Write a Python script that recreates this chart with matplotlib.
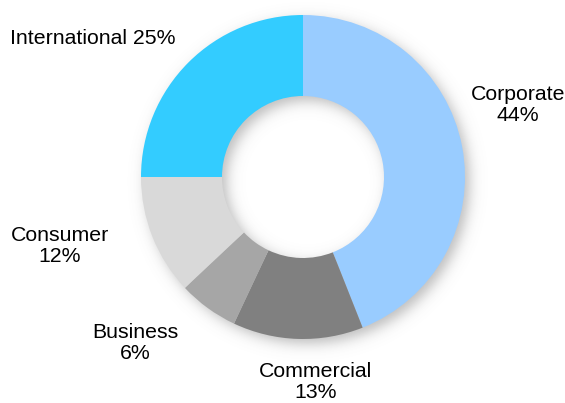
import numpy as np
import matplotlib
matplotlib.use("Agg")
import matplotlib.pyplot as plt

plt.rcParams['font.family'] = ['Liberation Sans', 'DejaVu Sans']

segments = ["Corporate", "Commercial", "Business", "Consumer", "International"]
shares = [44, 13, 6, 12, 25]
colors = ["#99CCFF", "#808080", "#A6A6A6", "#D9D9D9", "#33CCFF"]

W, H = 565, 403
cx, cy, R = 303, 177, 162  # centre and outer radius in pixels (from top-left)

fig = plt.figure(figsize=(W / 100, H / 100), dpi=100)
ax = fig.add_axes([0, 0, 1, 1])
ax.set_xlim(-cx / R, (W - cx) / R)
ax.set_ylim(-(H - cy) / R, cy / R)
ax.axis("off")

def px(x, y):
    return (x - cx) / R, (cy - y) / R

# soft drop shadow under the ring
xs = np.linspace(-cx / R, (W - cx) / R, W)
ys = np.linspace(cy / R, -(H - cy) / R, H)
gx, gy = np.meshgrid(xs, ys)
off, soft = 0.03, 0.025
d = np.hypot(gx - off, gy + off)
a = 1 / (1 + np.exp(-(1.0 - d) / soft)) * 1 / (1 + np.exp(-(d - 0.5) / soft))
shadow = np.zeros((H, W, 4))
shadow[..., :3] = 0.35
shadow[..., 3] = 0.4 * a
ax.imshow(shadow, extent=(xs[0], xs[-1], ys[-1], ys[0]), zorder=0, interpolation="bilinear")

ax.pie(shares, colors=colors, startangle=90, counterclock=False, radius=1.0,
       wedgeprops=dict(width=0.5, edgecolor="none", zorder=1))
ax.set_xlim(-cx / R, (W - cx) / R)
ax.set_ylim(-(H - cy) / R, cy / R)

fs = 15.3
label_pos = {
    "Corporate": (518, 105),
    "Commercial": (316, 382),
    "Business": (135, 343),
    "Consumer": (60, 246),
}
for name, val in zip(segments, shares):
    if name == "International":
        x, y = px(10, 38)
        ax.text(x, y, f"{name} {val}%", ha="left", va="center", fontsize=fs)
    else:
        x, y = px(*label_pos[name])
        ax.text(x, y, f"{name}\n{val}%", ha="center", va="center", fontsize=fs,
                linespacing=1.08)

fig.savefig("out.png", dpi=100)
